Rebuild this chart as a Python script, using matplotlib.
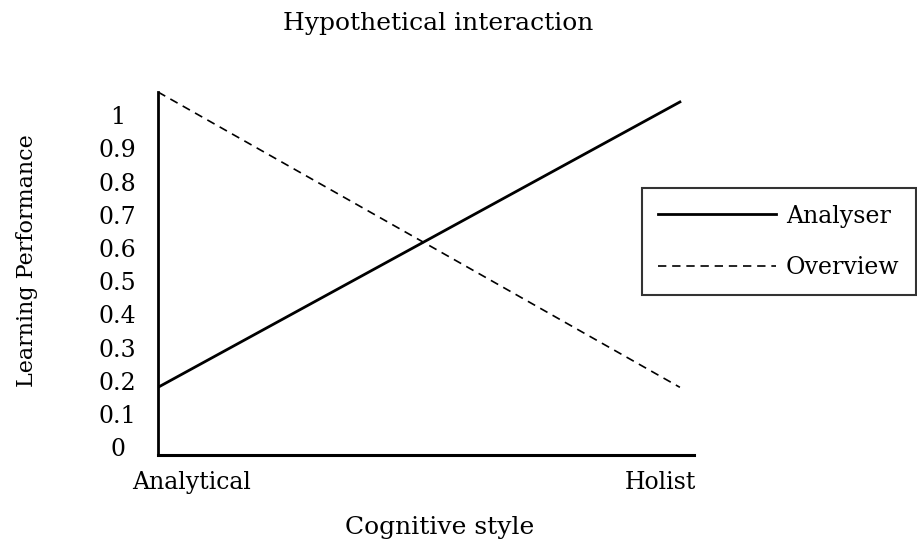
import matplotlib.pyplot as plt

# data
styles = [0, 1]                      # Analytical -> Holist
analyser = [0.18, 1.04]
overview = [1.07, 0.18]
y_ticks = [0, 0.1, 0.2, 0.3, 0.4, 0.5, 0.6, 0.7, 0.8, 0.9, 1]
y_tick_labels = ['0', '0.1', '0.2', '0.3', '0.4', '0.5', '0.6', '0.7', '0.8', '0.9', '1']
x_labels = ['Analytical', 'Holist']

plt.rcParams['font.family'] = ['DejaVu Serif']

fig = plt.figure(figsize=(9.17, 5.49), dpi=100)
ax = fig.add_axes([0.1723, 0.1712, 0.5845, 0.6612])

ax.plot(styles, analyser, color='black', lw=2, label='Analyser')
ax.plot(styles, overview, color='black', lw=1.2, dashes=(5, 3.5), label='Overview')

ax.set_xlim(0, 1.027)
ax.set_ylim(-0.024, 1.07)

ax.spines['top'].set_visible(False)
ax.spines['right'].set_visible(False)
ax.spines['left'].set_linewidth(2)
ax.spines['bottom'].set_linewidth(2.2)

ax.set_yticks(y_ticks)
ax.set_yticklabels(y_tick_labels, ha='center', fontsize=17)
ax.tick_params(axis='y', length=0, pad=29)
ax.set_xticks([])

# category labels under the axis
ax.text(0.063, -0.075, x_labels[0], transform=ax.transAxes, ha='center', va='center', fontsize=17)
ax.text(0.937, -0.075, x_labels[1], transform=ax.transAxes, ha='center', va='center', fontsize=17)

fig.text(0.478, 0.958, 'Hypothetical interaction', ha='center', va='center', fontsize=18)
fig.text(0.479, 0.04, 'Cognitive style', ha='center', va='center', fontsize=18)
fig.text(0.029, 0.525, 'Learning Performance', ha='center', va='center', rotation=90, fontsize=16)

leg = fig.legend(loc='upper left', bbox_to_anchor=(0.700, 0.6576), borderaxespad=0,
                 fontsize=17, frameon=True, fancybox=False, edgecolor='black',
                 handlelength=5.0, labelspacing=1.2, borderpad=0.7, handletextpad=0.4)
leg.get_frame().set_linewidth(1.5)

fig.savefig('out.png', dpi=100)
